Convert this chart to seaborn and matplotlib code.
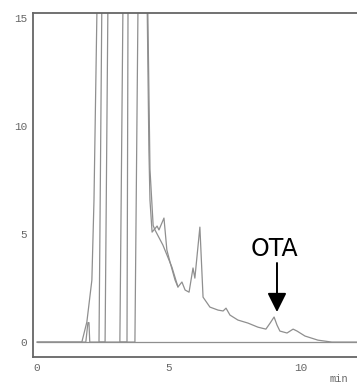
import pandas as pd
import matplotlib.pyplot as plt
import seaborn as sns

# ─── Style ────────────────────────────────────────────────────────────────────
sns.set_style('white')
plt.rcParams.update({
    'figure.facecolor': 'white',
    'font.family': ['DejaVu Sans'],
})

# ─── Data (retention time in min, detector signal) ──────────────────────────
# sample chromatogram; 16 = off-scale peak tops
sample_time = [0.00, 1.70, 1.89, 2.08, 2.16, 2.28,
               2.46, 2.35, 2.58, 2.69,
               3.26, 3.14, 3.71, 3.83,
               4.17, 4.24, 4.28, 4.36, 4.55, 4.62, 4.81, 4.92, 5.04, 5.23,
               5.34, 5.49, 5.61, 5.76, 5.91, 5.98, 6.17, 6.29, 6.55, 6.86,
               7.05, 7.16, 7.31, 7.61, 7.99, 8.37, 8.67, 8.83, 8.98, 9.09,
               9.20, 9.47, 9.70, 9.85, 10.15, 10.64, 11.17, 12.12]
sample_signal = [0.00, 0.00, 0.93, 2.87, 6.57, 16.0,
                 16.0, 0.00, 0.00, 16.0,
                 16.0, 0.00, 0.00, 16.0,
                 16.0, 8.89, 6.57, 5.09, 5.37, 5.19, 5.74, 4.26, 3.70, 2.87,
                 2.55, 2.78, 2.41, 2.31, 3.43, 2.96, 5.32, 2.08, 1.62, 1.48,
                 1.44, 1.57, 1.25, 1.02, 0.88, 0.69, 0.60, 0.88, 1.16, 0.79,
                 0.51, 0.42, 0.60, 0.51, 0.28, 0.09, 0.00, 0.00]

# overlaid second run
second_time = [0.00, 1.85, 1.93, 1.97, 2.00, 3.41, 3.45, 3.49, 3.59,
               4.19, 4.28, 4.40, 4.47, 4.77, 5.11, 5.34]
second_signal = [0.00, 0.00, 0.90, 0.90, 0.00, 0.00, 16.0, 16.0, 16.0,
                 16.0, 8.00, 5.40, 5.19, 4.49, 3.47, 2.55]

# blank baseline
blank_time = [0.00, 12.12]
blank_signal = [0.00, 0.00]

y_ticks = [0, 5, 10, 15]
x_ticks = [0, 5, 10]

ota_time, ota_tip, ota_label_y = 9.09, 1.39, 4.31

traces = pd.concat([
    pd.DataFrame({'time': sample_time, 'signal': sample_signal, 'run': 'sample'}),
    pd.DataFrame({'time': second_time, 'signal': second_signal, 'run': 'second'}),
    pd.DataFrame({'time': blank_time, 'signal': blank_signal, 'run': 'blank'}),
], ignore_index=True)

# ─── Plot ─────────────────────────────────────────────────────────────────────
fig = plt.figure(figsize=(3.57, 3.88), dpi=100)
ax = fig.add_axes([0.0924, 0.0799, 0.9076, 0.8866])

for run, grp in traces.groupby('run', sort=False):
    sns.lineplot(data=grp, x='time', y='signal', ax=ax, sort=False,
                 estimator=None, color='#8f8f8f', lw=0.9, legend=False)

ax.set_xlim(-0.15, 12.12)
ax.set_ylim(-0.69, 15.23)
ax.set_xticks(x_ticks)
ax.set_yticks(y_ticks)
ax.set_xlabel('')
ax.set_ylabel('')
ax.tick_params(axis='both', direction='out', length=3, width=0.8, color='#666666',
               labelsize=8, labelcolor='#666666', pad=1)
for lab in ax.get_xticklabels() + ax.get_yticklabels():
    lab.set_family('Liberation Mono')

for side in ['left', 'top', 'bottom']:
    ax.spines[side].set_color('#666666')
    ax.spines[side].set_linewidth(1.3)
ax.spines['right'].set_visible(False)

# OTA label with a vertical arrow down to the peak
ax.text(ota_time - 0.11, ota_label_y, 'OTA', ha='center', va='center',
        fontsize=17, color='black')
ax.annotate('', xy=(ota_time, ota_tip), xytext=(ota_time, ota_label_y - 0.65),
            arrowprops=dict(arrowstyle='-|>,head_length=0.68,head_width=0.34',
                            color='black', lw=1.4, shrinkA=0, shrinkB=0,
                            mutation_scale=17))

fig.text(0.924, 0.023, 'min', fontsize=7.5, color='#666666',
         family='Liberation Mono', ha='left', va='center')

fig.savefig('out.png', dpi=100)
